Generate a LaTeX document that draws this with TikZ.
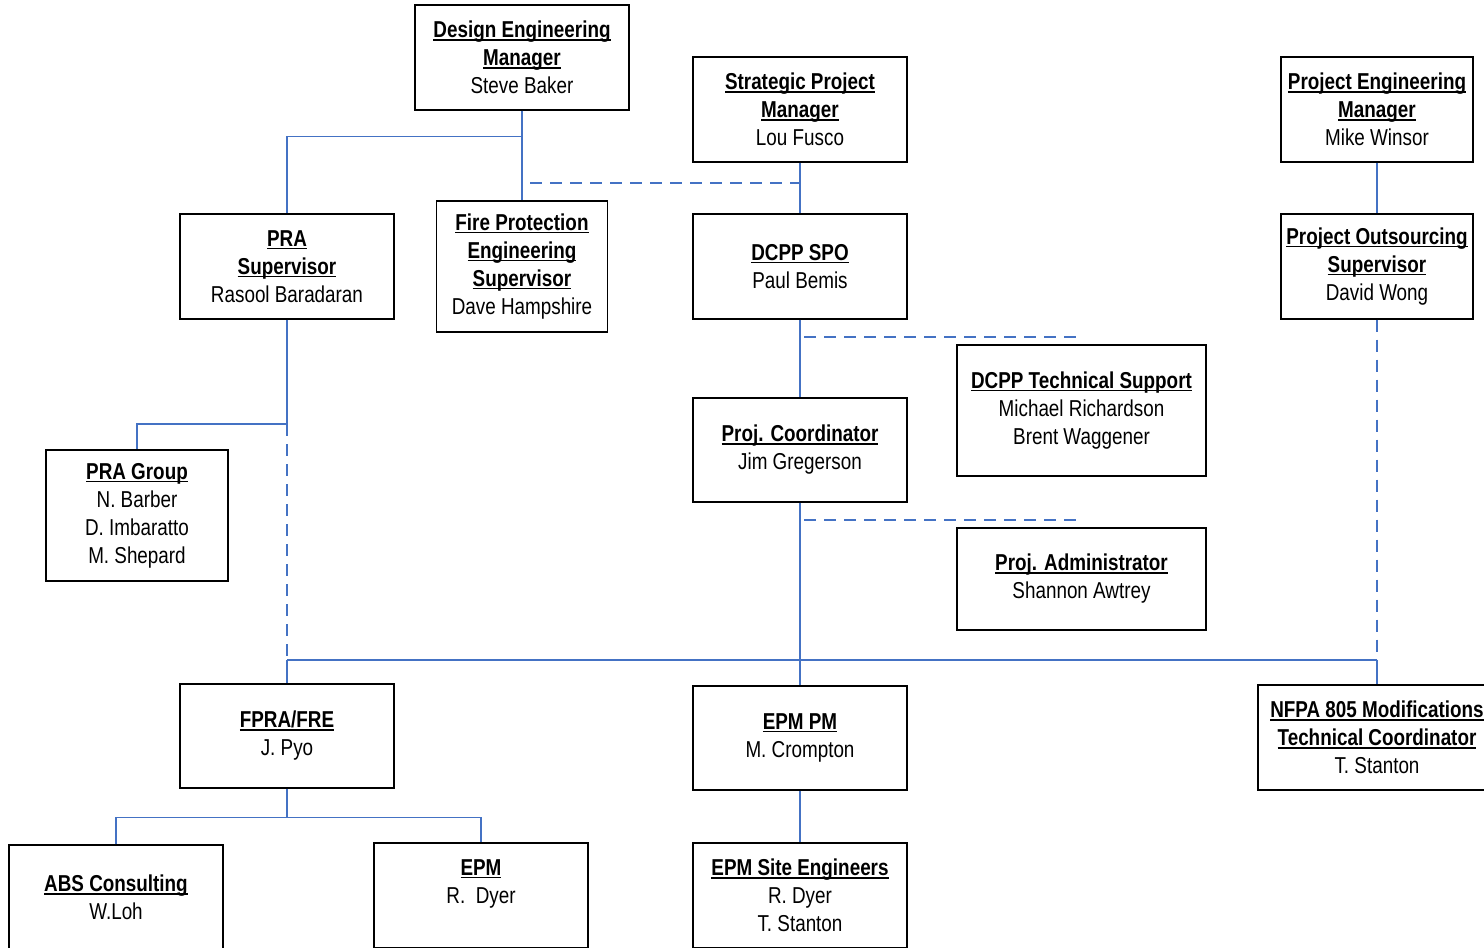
\documentclass[tikz,border=0pt]{standalone}
\usepackage{fontspec}
\setmainfont[FakeStretch=0.82]{Liberation Sans}
\newsavebox\hdlbox
\newcommand\hdl[1]{\sbox\hdlbox{\bfseries #1}\rlap{\rule[-2.8pt]{\wd\hdlbox}{1.4pt}}\usebox\hdlbox}
\definecolor{lblue}{RGB}{68,114,196}
\begin{document}
\begin{tikzpicture}[x=1pt,y=-1pt,
 box/.style={draw=black, line width=1.3pt, align=center, inner sep=0pt,
   font=\fontsize{23}{28}\selectfont, minimum width=214pt, minimum height=105pt,
   execute at begin node={\rule{0pt}{20.5pt}}},
 conn/.style={draw=lblue, line width=1.5pt},
 dsh/.style={conn, dash pattern=on 12pt off 8pt, dash phase=16pt}]
\useasboundingbox (0,0) rectangle (1484,948);
\clip (0,0) rectangle (1484,948);

\node[box] (dem) at (522,57.5) {\hdl{Design Engineering}\\\hdl{Manager}\\Steve Baker};
\node[box] (spm) at (800,109.5) {\hdl{Strategic Project}\\\hdl{Manager}\\Lou Fusco};
\node[box, minimum width=192pt] (pem) at (1377,109.5) {\hdl{Project Engineering}\\\hdl{Manager}\\Mike Winsor};
\node[box] (pra) at (287,266.5) {\hdl{PRA}\\\hdl{Supervisor}\\Rasool Baradaran};
\node[box, minimum width=171pt, minimum height=131pt] (fpe) at (522,266.5) {\hdl{Fire Protection}\\\hdl{Engineering}\\\hdl{Supervisor}\\Dave Hampshire};
\node[box] (spo) at (800,266.5) {\hdl{DCPP SPO}\\Paul Bemis};
\node[box, minimum width=192pt] (pos) at (1377,266.5) {\hdl{Project Outsourcing}\\\hdl{Supervisor}\\David Wong};
\node[box, minimum width=249pt, minimum height=131pt] (dts) at (1081.5,410.5) {\hdl{DCPP Technical Support}\\Michael Richardson\\Brent Waggener};
\node[box, minimum height=104pt] (pco) at (800,450) {\hdl{Proj. Coordinator}\\Jim Gregerson};
\node[box, minimum width=182pt, minimum height=131pt] (prg) at (137,515.5) {\hdl{PRA Group}\\N. Barber\\D. Imbaratto\\M. Shepard};
\node[box, minimum width=249pt, minimum height=102pt] (pad) at (1081.5,579) {\hdl{Proj. Administrator}\\Shannon Awtrey};
\node[box, minimum height=104pt] (fpr) at (287,736) {\hdl{FPRA/FRE}\\J. Pyo};
\node[box, minimum height=104pt] (epp) at (800,738) {\hdl{EPM PM}\\M. Crompton};
\node[box, minimum width=238pt] (nfp) at (1377,737.5) {\hdl{NFPA 805 Modifications}\\\hdl{Technical Coordinator}\\T. Stanton};
\node[box] (abs) at (116,897.5) {\hdl{ABS Consulting}\\W.Loh};
\node[box] (epm) at (481,895.5) {\hdl{EPM}\\R.~~Dyer\\~};
\node[box] (ese) at (800,895.5) {\hdl{EPM Site Engineers}\\R. Dyer\\T. Stanton};

% top group
\draw[conn] (dem.south) -- (fpe.north);
\draw[conn] (dem.south) -- ++(0,26) -| (pra.north);
\coordinate (d1a) at (522,183);
\coordinate (d1b) at (800,183);
\draw[dsh, dash phase=12pt] (d1a) -- (d1b);
\draw[conn] (spm.south) -- (spo.north);
\draw[conn] (pem.south) -- (pos.north);

% SPO chain
\draw[conn] (spo.south) -- (pco.north);
\coordinate (d2a) at (800,337);
\coordinate (d2b) at (1082,337);
\draw[dsh] (d2a) -- (d2b);
\draw[conn] (pco.south) -- (epp.north);
\coordinate (d3a) at (800,520);
\coordinate (d3b) at (1082,520);
\draw[dsh] (d3a) -- (d3b);

% PRA chain
\coordinate (j1) at (287,424);
\coordinate (j2) at (287,660);
\coordinate (j3) at (1377,660);
\draw[conn] (pra.south) -- (j1) -| (prg.north);
\draw[dsh, dash phase=0pt] (j1) -- (j2);
\draw[conn] (j2) -- (fpr.north);
\draw[conn] (j2) -- (j3);
\draw[dsh, dash phase=0pt] (pos.south) -- (j3);
\draw[conn] (j3) -- (nfp.north);

% bottom
\draw[conn] (fpr.south) -- ++(0,29) coordinate (j4);
\draw[conn] (abs.north) |- (j4) -| (epm.north);
\draw[conn] (epp.south) -- (ese.north);
\end{tikzpicture}
\end{document}
